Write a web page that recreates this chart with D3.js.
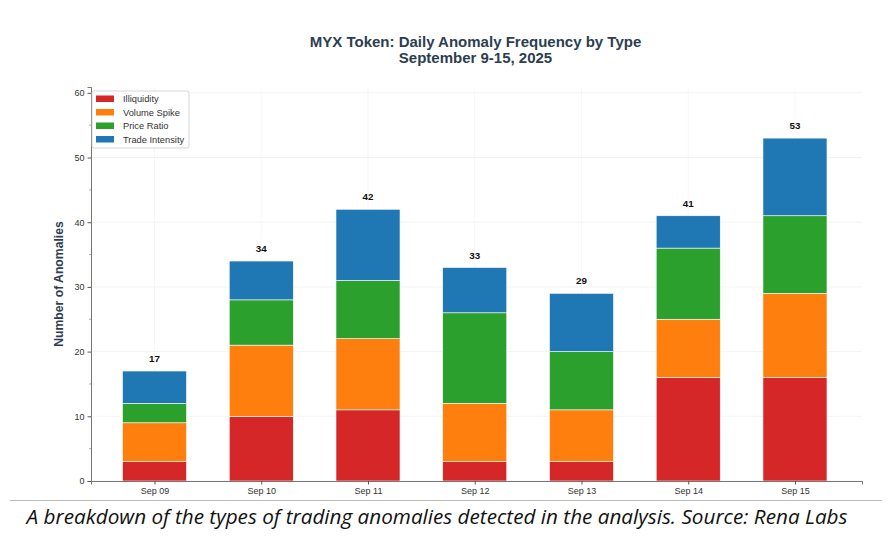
<!DOCTYPE html>
<html><head><meta charset="utf-8">
<script src="https://cdn.jsdelivr.net/npm/d3@7"></script>
<style>
html,body{margin:0;padding:0;background:#fff;}
svg{display:block;}
</style></head>
<body>
<svg id="chart" width="892" height="537"></svg>
<script>
const dates = ["Sep 09","Sep 10","Sep 11","Sep 12","Sep 13","Sep 14","Sep 15"];
const seriesNames = ["Illiquidity","Volume Spike","Price Ratio","Trade Intensity"];
const illiquidity    = [3, 10, 11, 3, 3, 16, 16];
const volumeSpike    = [6, 11, 11, 9, 8, 9, 13];
const priceRatio     = [3, 7, 9, 14, 9, 11, 12];
const tradeIntensity = [5, 6, 11, 7, 9, 5, 12];
const colors = ["#d62728","#ff7f0e","#2ca02c","#1f77b4"];
const yTicks = [0,10,20,30,40,50,60];
const yMinorTicks = [5,15,25,35,45,55];

(function(){
const svg = d3.select("#chart");
const pLeft = 91, pRight = 862, pBottom = 481, pTop = 87;
const FONT = "'Liberation Sans', Arial, sans-serif";

const x = d3.scaleLinear().domain([-0.595, 6.628]).range([pLeft, pRight]);
const y = d3.scaleLinear().domain([0, 60.9]).range([pBottom, pTop]);
const barW = x(0.6) - x(0);

const table = dates.map((d,i)=>({date:d, i:i,
  "Illiquidity":illiquidity[i], "Volume Spike":volumeSpike[i],
  "Price Ratio":priceRatio[i], "Trade Intensity":tradeIntensity[i]}));
const stacked = d3.stack().keys(seriesNames)(table);

// grid
const g = svg.append("g");
g.selectAll(".hg").data(yTicks).join("line")
  .attr("x1", pLeft).attr("x2", pRight)
  .attr("y1", d=>y(d)).attr("y2", d=>y(d))
  .attr("stroke", "#ebebeb").attr("stroke-width", 0.6);
g.selectAll(".vg").data(dates).join("line")
  .attr("x1", (d,i)=>x(i)).attr("x2", (d,i)=>x(i))
  .attr("y1", pTop).attr("y2", pBottom)
  .attr("stroke", "#f0f0f0").attr("stroke-width", 0.6);

// bars
stacked.forEach((s, k) => {
  svg.append("g").selectAll("rect").data(s).join("rect")
    .attr("x", (d,i)=>x(i) - barW/2)
    .attr("width", barW)
    .attr("y", d=>y(d[1]))
    .attr("height", d=>y(d[0]) - y(d[1]))
    .attr("fill", colors[k])
    .attr("stroke", "#ffffff").attr("stroke-width", 0.6);
});

// totals
const totals = table.map(r => seriesNames.reduce((a,k)=>a+r[k],0));
svg.append("g").selectAll("text").data(totals).join("text")
  .attr("x", (d,i)=>x(i)).attr("y", d=>y(d) - 9)
  .attr("text-anchor","middle")
  .attr("font-family",FONT)
  .attr("font-weight","bold").attr("font-size", 9.8)
  .attr("fill","#111")
  .text(d=>d);

// axes
const yAxis = d3.axisLeft(y).tickValues(yTicks).tickSize(3.5).tickPadding(3);
const ya = svg.append("g").attr("transform", `translate(${pLeft},0)`).call(yAxis);
ya.selectAll("line").attr("stroke","#555");
svg.append("g").selectAll("line").data(yMinorTicks).join("line")
  .attr("x1", pLeft-2).attr("x2", pLeft).attr("y1", d=>y(d)).attr("y2", d=>y(d))
  .attr("stroke","#777").attr("stroke-width",0.6);

const xAxis = d3.axisBottom(x).tickValues(d3.range(dates.length)).tickFormat(i=>dates[i]).tickSize(3.5).tickPadding(3);
const xa = svg.append("g").attr("transform", `translate(0,${pBottom})`).call(xAxis);
xa.selectAll("line").attr("stroke","#555");

[ya, xa].forEach(a => {
  a.select(".domain").attr("stroke","#666").attr("stroke-width",0.9);
  a.selectAll("text").attr("font-family",FONT)
    .attr("font-size", 9).attr("fill","#333");
});

// title
const title = svg.append("text").attr("text-anchor","middle")
  .attr("font-family",FONT)
  .attr("font-weight","bold").attr("font-size", 15).attr("fill","#2c3e50");
title.append("tspan").attr("x", 475.5).attr("y", 47).text("MYX Token: Daily Anomaly Frequency by Type");
title.append("tspan").attr("x", 475.5).attr("y", 63).text("September 9-15, 2025");

// y label
svg.append("text")
  .attr("transform", `translate(63,${(pTop+pBottom)/2}) rotate(-90)`)
  .attr("text-anchor","middle")
  .attr("font-family",FONT)
  .attr("font-weight","bold").attr("font-size", 12.2).attr("fill","#2c3e50")
  .text("Number of Anomalies");

// legend
const lg = svg.append("g").attr("transform", "translate(92,91)");
lg.append("rect").attr("x",0).attr("y",0).attr("width",97).attr("height",57)
  .attr("fill","#fff").attr("stroke","#ccc").attr("stroke-width",0.8).attr("rx",2);
seriesNames.forEach((n,k)=>{
  lg.append("rect").attr("x",4).attr("y",4.5 + k*13.5).attr("width",18).attr("height",6.5).attr("fill",colors[k]);
  lg.append("text").attr("x",31).attr("y",11.2 + k*13.5)
    .attr("font-family",FONT)
    .attr("font-size",9.3).attr("fill","#333").text(n);
});

// separator and caption
svg.append("line").attr("x1",10).attr("x2",882).attr("y1",500.5).attr("y2",500.5)
  .attr("stroke","#bbb").attr("stroke-width",1);
svg.append("text").attr("x",437).attr("y",524).attr("text-anchor","middle")
  .attr("font-family","'Open Sans', sans-serif").attr("font-style","italic")
  .attr("font-size",20.7).attr("fill","#111")
  .text("A breakdown of the types of trading anomalies detected in the analysis. Source: Rena Labs");
})();
</script>
</body></html>
